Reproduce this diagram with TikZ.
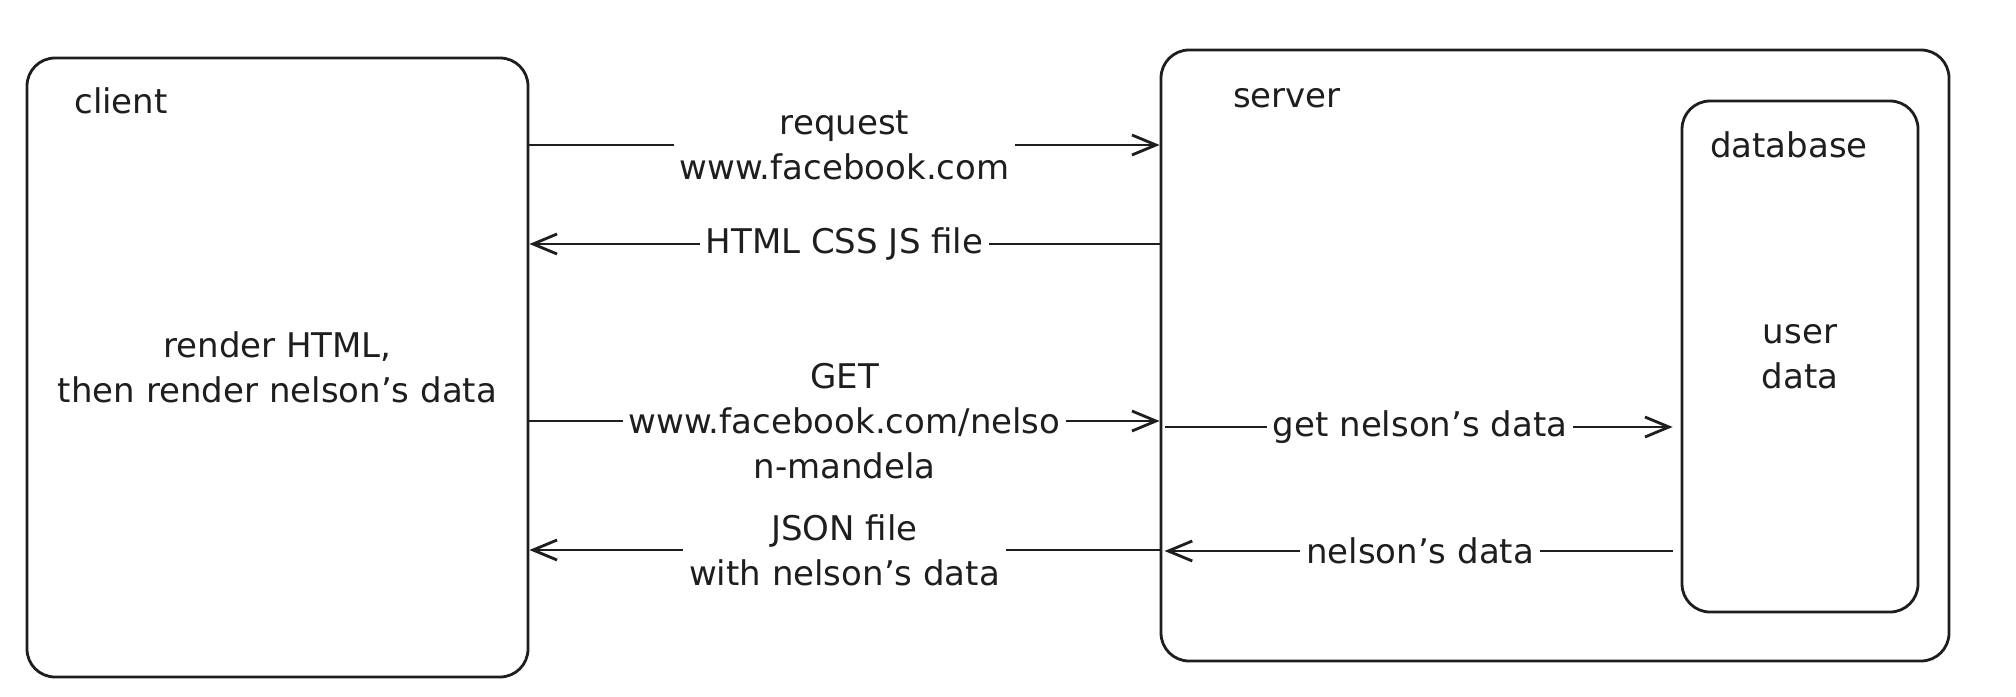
\documentclass[tikz,border=0pt]{standalone}
\usepackage{fontspec}
\setmainfont{DejaVu Sans}
\usetikzlibrary{arrows.meta}
\definecolor{ink}{HTML}{1E1E1E}
\begin{document}
\begin{tikzpicture}[x=0.5pt,y=-0.5pt,
  every node/.style={font=\fontsize{17}{22.5}\selectfont, text=ink},
  box/.style={draw=ink, line width=1.4pt, rounded corners=14pt, inner sep=0pt, align=center},
  lbl/.style={fill=white, align=center, inner xsep=3pt, inner ysep=1pt},
  conn/.style={draw=ink, line width=1.4pt, -{Straight Barb[length=12pt,width=10pt]}},
]
\useasboundingbox (0,0) rectangle (2016,696);
\fill[white] (0,0) rectangle (2016,696);

% boxes
\node[box, minimum width=250.5pt, minimum height=309.5pt] (client) at (277.5,367.5) {render HTML,\\then render nelson's data};
\node (clientlbl) at (121,101) {client};
\node[box, minimum width=394pt, minimum height=305.5pt] (server) at (1555,355.5) {};
\node (serverlbl) at (1287,98) {server};
\node[box, minimum width=118pt, minimum height=255.5pt] (db) at (1800,356.5) {user\\data};
\node (dblbl) at (1789,145) {database};

% levels
\coordinate (r1) at (0,145);
\coordinate (r2) at (0,244);
\coordinate (r3) at (0,421);
\coordinate (r4) at (0,550);
\coordinate (r5) at (0,427);
\coordinate (r6) at (0,551);

% client <-> server
\draw[conn] (client.east|-r1) -- node[lbl] (l1) {request\\www.facebook.com} (server.west|-r1);
\draw[conn] (server.west|-r2) -- node[lbl] (l2) {HTML CSS JS file} (client.east|-r2);
\draw[conn] (client.east|-r3) -- node[lbl] (l3) {GET\\www.facebook.com/nelso\\n-mandela} (server.west|-r3);
\draw[conn] (server.west|-r4) -- node[lbl] (l4) {JSON file\\with nelson's data} (client.east|-r4);

% server <-> database
\draw[conn, shorten <=2.5pt, shorten >=4pt] (server.west|-r5) -- node[lbl] (l5) {get nelson's data} (db.west|-r5);
\draw[conn, shorten <=4pt, shorten >=2.5pt] (db.west|-r6) -- node[lbl] (l6) {nelson's data} (server.west|-r6);
\end{tikzpicture}
\end{document}
